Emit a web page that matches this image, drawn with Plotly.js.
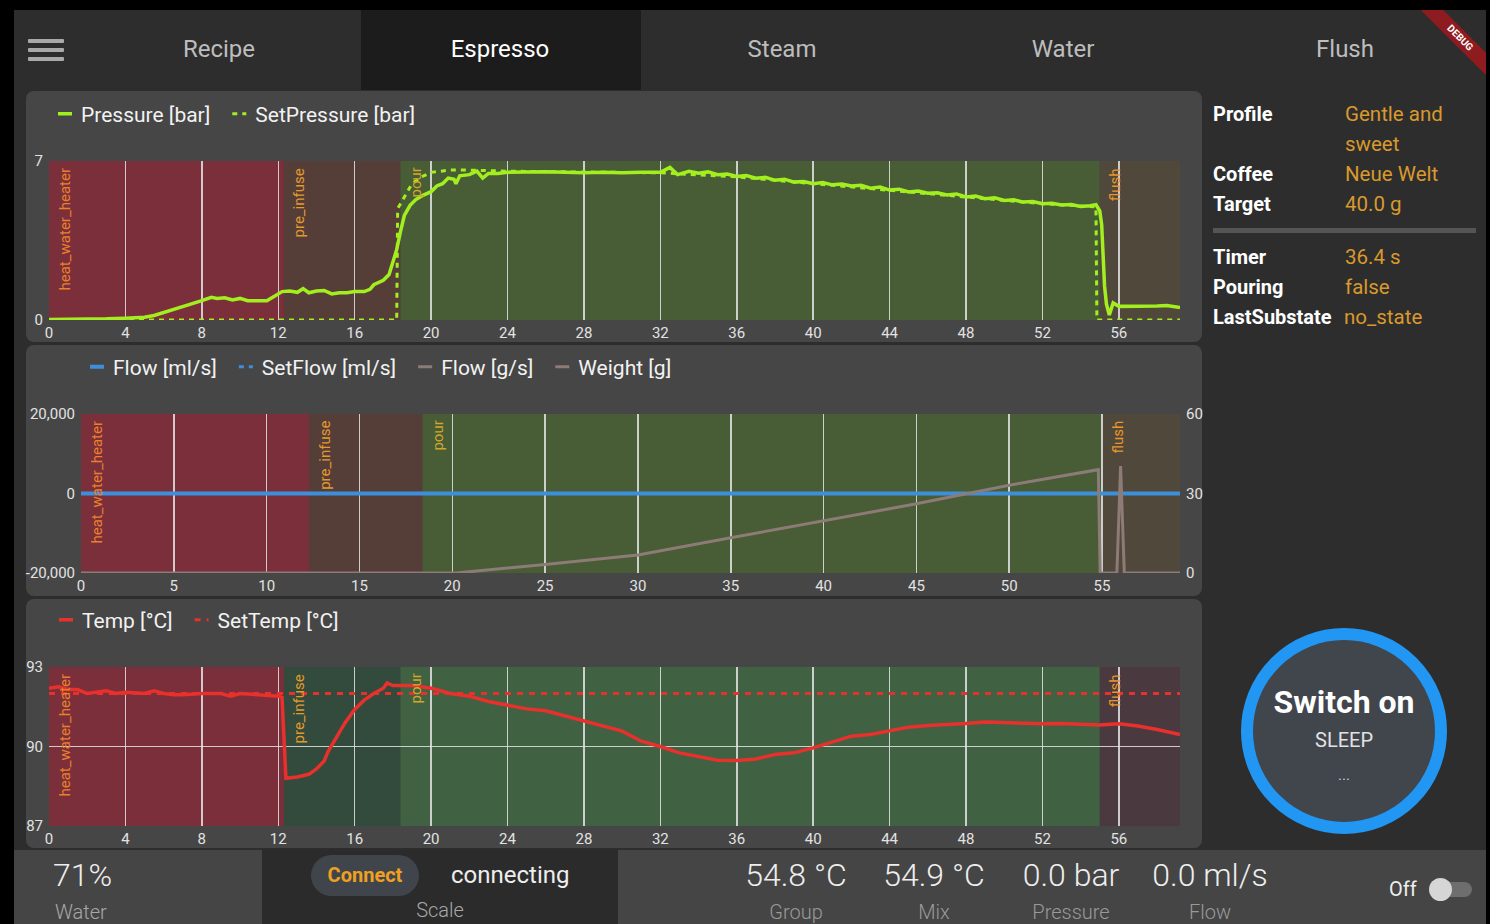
<!DOCTYPE html>
<html><head><meta charset="utf-8">
<script src="https://cdn.plot.ly/plotly-3.0.1.min.js"></script>
<style>
html,body{margin:0;padding:0;background:#000;width:1490px;height:924px;overflow:hidden;font-family:Roboto,"Noto Sans",sans-serif;}
.abs{position:absolute;}
.t{position:absolute;white-space:nowrap;line-height:30px;height:30px;}
.card{position:absolute;left:26px;width:1176px;background:#464646;border-radius:8px;}
.chart{position:absolute;left:14px;width:1200px;}
.lbl{font-weight:700;color:#fff;font-size:20px;}
.val{color:#d9992e;font-size:20.5px;}
.big{font-size:32px;font-weight:300;color:#eee;line-height:40px;height:40px;transform:translateX(-50%);}
.sub{font-size:20px;font-weight:300;color:#9a9a9a;transform:translateX(-50%);}
</style></head>
<body>
<!-- main background -->
<div class="abs" style="left:14px;top:10px;width:1472px;height:914px;background:#2d2d2d;"></div>
<!-- nav bar -->
<div class="abs" style="left:14px;top:10px;width:1472px;height:80px;background:#2d2d2d;overflow:hidden;">
  <div class="abs" style="left:347px;top:0;width:280px;height:80px;background:#1c1c1c;"></div>
  <div class="abs" style="left:14px;top:29px;width:36px;height:4px;background:#a9a9a9;border-radius:1px;"></div>
  <div class="abs" style="left:14px;top:38px;width:36px;height:4px;background:#a9a9a9;border-radius:1px;"></div>
  <div class="abs" style="left:14px;top:47px;width:36px;height:4px;background:#a9a9a9;border-radius:1px;"></div>
  <div class="t" style="left:205px;top:24px;font-size:24px;color:#bdbdbd;transform:translateX(-50%);">Recipe</div>
  <div class="t" style="left:486px;top:24px;font-size:24px;color:#fff;transform:translateX(-50%);">Espresso</div>
  <div class="t" style="left:768px;top:24px;font-size:24px;color:#bdbdbd;transform:translateX(-50%);">Steam</div>
  <div class="t" style="left:1049px;top:24px;font-size:24px;color:#bdbdbd;transform:translateX(-50%);">Water</div>
  <div class="t" style="left:1331px;top:24px;font-size:24px;color:#bdbdbd;transform:translateX(-50%);">Flush</div>
  <div class="abs" style="left:1386px;top:20px;width:120px;height:16px;background:#8e1b1f;transform:rotate(45deg);color:#fff;font-size:10px;font-weight:700;text-align:center;line-height:16px;">DEBUG</div>
</div>

<!-- cards -->
<div class="card" style="top:91px;height:251px;"></div>
<div class="card" style="top:345px;height:251px;"></div>
<div class="card" style="top:599px;height:249px;"></div>

<div id="c1" class="chart" style="top:92px;height:253px;"></div>
<div id="c2" class="chart" style="top:345px;height:253px;"></div>
<div id="c3" class="chart" style="top:598px;height:252px;"></div>

<!-- right panel -->
<div class="t lbl" style="left:1213px;top:99px;">Profile</div>
<div class="t val" style="left:1345px;top:99px;">Gentle and</div>
<div class="t val" style="left:1345px;top:129px;">sweet</div>
<div class="t lbl" style="left:1213px;top:159px;">Coffee</div>
<div class="t val" style="left:1345px;top:159px;">Neue Welt</div>
<div class="t lbl" style="left:1213px;top:189px;">Target</div>
<div class="t val" style="left:1345px;top:189px;">40.0 g</div>
<div class="abs" style="left:1213px;top:228px;width:263px;height:5px;background:#555;"></div>
<div class="t lbl" style="left:1213px;top:242px;">Timer</div>
<div class="t val" style="left:1345px;top:242px;">36.4 s</div>
<div class="t lbl" style="left:1213px;top:272px;">Pouring</div>
<div class="t val" style="left:1345px;top:272px;">false</div>
<div class="t lbl" style="left:1213px;top:302px;">LastSubstate</div>
<div class="t val" style="left:1344px;top:302px;">no_state</div>

<!-- switch button -->
<div class="abs" style="left:1241px;top:628px;width:182px;height:182px;border:12px solid #2196f3;border-radius:50%;background:#41454c;"></div>
<div class="t" style="left:1344px;top:682px;font-size:32px;font-weight:700;color:#fff;line-height:40px;height:40px;transform:translateX(-50%);">Switch on</div>
<div class="t" style="left:1344px;top:725px;font-size:20px;color:#e2e2e2;transform:translateX(-50%);">SLEEP</div>
<div class="t" style="left:1344px;top:760px;font-size:15px;color:#ccc;transform:translateX(-50%);">...</div>

<!-- bottom bar -->
<div class="abs" style="left:14px;top:850px;width:1472px;height:74px;background:#454545;"></div>
<div class="abs" style="left:262px;top:850px;width:356px;height:74px;background:#2b2b2b;"></div>
<div class="t" style="left:53px;top:855px;font-size:32px;font-weight:300;color:#eee;line-height:40px;height:40px;">71%</div>
<div class="t" style="left:55px;top:897px;font-size:20px;font-weight:300;color:#a8a8a8;">Water</div>
<div class="abs" style="left:311px;top:855px;width:108px;height:41px;border-radius:21px;background:#40454c;color:#f0a020;font-size:20px;font-weight:700;text-align:center;line-height:41px;">Connect</div>
<div class="t" style="left:451px;top:860px;font-size:24px;color:#eee;">connecting</div>
<div class="t" style="left:440px;top:895px;font-size:20px;font-weight:300;color:#a8a8a8;transform:translateX(-50%);">Scale</div>
<div class="t big" style="left:796px;top:855px;">54.8 °C</div>
<div class="t big" style="left:934px;top:855px;">54.9 °C</div>
<div class="t big" style="left:1071px;top:855px;">0.0 bar</div>
<div class="t big" style="left:1210px;top:855px;">0.0 ml/s</div>
<div class="t sub" style="left:796px;top:897px;">Group</div>
<div class="t sub" style="left:934px;top:897px;">Mix</div>
<div class="t sub" style="left:1071px;top:897px;">Pressure</div>
<div class="t sub" style="left:1210px;top:897px;">Flow</div>
<div class="t" style="left:1389px;top:874px;font-size:20px;color:#eee;">Off</div>
<div class="abs" style="left:1434px;top:882px;width:38px;height:15px;border-radius:8px;background:#6e6e6e;"></div>
<div class="abs" style="left:1429px;top:878px;width:23px;height:23px;border-radius:50%;background:#d6d6d6;"></div>

<script>
// ---------------- data ----------------
const phaseNames  = ['heat_water_heater', 'pre_infuse', 'pour', 'flush'];
const phaseStart  = [0, 12.3, 18.4, 55.0];
const phaseEnd    = [12.3, 18.4, 55.0, 59.2];

const pressureTime = [0,1,2,3,4,5,5.5,6,6.5,7,7.5,8,8.5,8.8,9.2,9.6,10,10.4,11,11.4,11.8,12.2,12.6,13,13.3,13.6,14,14.4,14.8,15.2,15.6,16,16.5,16.8,17,17.5,17.8,18,18.2,18.4,18.6,18.9,19.2,19.6,20,20.3,20.6,20.9,21.2,21.3,21.5,22,22.4,22.7,23,23.5,24,25,26,27,28,29,30,31,32,32.5,32.9,33.5,34,34.5,35,35.5,36,36.5,37,37.5,38,38.5,39,39.5,40,40.5,41,41.5,42,42.5,43,43.5,44,44.5,45,45.5,46,46.5,47,47.5,48,48.5,49,49.5,50,50.5,51,51.5,52,52.5,53,53.5,54,54.5,54.8,55.0,55.1,55.25,55.35,55.5,55.7,56,57,58,58.5,59.2];
const pressureBar  = [0.02,0.02,0.03,0.05,0.08,0.12,0.2,0.32,0.45,0.58,0.72,0.85,1.0,0.95,0.98,0.88,0.95,0.85,0.85,0.85,1.05,1.25,1.28,1.22,1.38,1.2,1.28,1.3,1.15,1.2,1.2,1.25,1.25,1.35,1.55,1.75,2.0,2.6,3.1,3.9,4.6,5.05,5.3,5.5,5.65,5.9,6.0,6.25,6.2,6.0,6.35,6.4,6.55,6.25,6.45,6.45,6.5,6.52,6.53,6.5,6.48,6.5,6.48,6.5,6.5,6.72,6.4,6.55,6.46,6.52,6.4,6.43,6.32,6.36,6.24,6.28,6.15,6.2,6.07,6.1,6.0,6.05,5.95,5.99,5.9,5.93,5.8,5.85,5.72,5.76,5.64,5.68,5.58,5.6,5.5,5.55,5.42,5.46,5.34,5.38,5.26,5.29,5.19,5.22,5.12,5.14,5.06,5.08,5.0,5.03,5.08,4.8,4.2,1.5,0.7,0.22,0.75,0.6,0.6,0.62,0.64,0.55];

const setPressureTime = [0,18.2,18.25,19,19.5,20,21,22,24,28,32,36,40,44,48,52,54.8,54.85,59.2];
const setPressureBar  = [0,0,4.9,6.0,6.3,6.5,6.6,6.6,6.55,6.5,6.48,6.3,6.0,5.72,5.42,5.12,4.98,0,0];

const flowTime   = [0, 59.2];
const flowMl     = [0, 0];
const setFlowMl  = [0, 0];
const flowGs     = [0, 0];

const weightTime = [0,20.2,25,30,35,40,45,50,54.8,54.9,55.8,56.0,56.2,59.2];
const weightG    = [0,0,3.2,6.8,13.3,19.8,26.1,33.1,39.0,0,0,40.4,0,0];

const tempTime = [0,0.5,1,1.5,2,2.5,3,3.5,4,5,5.5,6,6.5,7,8,9,9.5,10,11,12,12.2,12.3,12.4,13,13.6,14,14.4,14.6,15,15.5,16,16.5,17,17.5,17.7,18,19,20,21,22,23,24,25,26,27,28,29,30,31,32,33,34,35,36,37,38,39,40,41,42,43,44,45,46,47,48,49,50,51,52,53,54,55,56,57,58,59.2];
const tempC    = [92.2,92.25,92.15,92.15,92.0,92.05,92.1,92.0,92.05,92.0,92.1,92.0,91.95,91.95,92.0,92.0,91.9,92.0,91.95,91.9,91.85,90.0,88.8,88.85,88.95,89.15,89.45,89.8,90.3,90.9,91.4,91.75,92.0,92.2,92.4,92.3,92.3,92.2,92.0,91.9,91.7,91.55,91.42,91.35,91.15,90.95,90.77,90.58,90.2,90.0,89.76,89.63,89.48,89.47,89.53,89.7,89.76,89.95,90.16,90.39,90.45,90.58,90.73,90.79,90.82,90.87,90.92,90.9,90.87,90.86,90.87,90.83,90.81,90.86,90.77,90.64,90.45];
const setTempTime = [0, 59.2];
const setTempC    = [92, 92];

const ticks4  = [0,4,8,12,16,20,24,28,32,36,40,44,48,52,56];
const ticks5  = [0,5,10,15,20,25,30,35,40,45,50,55];
const pressureTicks = [0, 7];
const flowTicks = [-20000, 0, 20000];
const flowTickText = ['-20,000', '0', '20,000'];
const weightTicks = [0, 30, 60];
const tempTicks = [87, 90, 93];

// ---------------- styles ----------------
const phaseColorsA = ['#7a2f3a', '#553e38', '#485c36', '#50483a'];
const phaseColorsB = ['#7a2f3a', '#324b3c', '#406242', '#4a3a40'];
const phaseLabelColors = ['#e8802c', '#e39a2d', '#d2a62a', '#e8952a'];
const W = 1200;
const tickFont = {family: 'Roboto', size: 15, color: '#e2e2e2'};
const gridCol = 'rgba(228,228,228,0.85)';

function phaseShapes(colors) {
  return phaseNames.map((n, i) => ({type: 'rect', xref: 'x', yref: 'paper', x0: phaseStart[i], x1: phaseEnd[i],
    y0: 0, y1: 1, fillcolor: colors[i], line: {width: 0}, layer: 'below'}));
}
function phaseLabels() {
  return phaseNames.map((n, i) => ({text: n, xref: 'x', yref: 'paper', x: phaseStart[i], y: 1,
    xanchor: 'left', yanchor: 'top', xshift: 4, yshift: -5, textangle: -90, showarrow: false,
    font: {family: 'Roboto', size: 15, color: phaseLabelColors[i]}}));
}
function xAxis(tv) {
  return {range: [0, 59.2], tickvals: tv, showgrid: true, gridcolor: gridCol, gridwidth: 1.5,
    zeroline: false, showline: false, ticks: '', tickfont: tickFont, fixedrange: true, ticklabelstandoff: 2};
}
function yAxis(range, tv) {
  return {range: range, tickvals: tv, showgrid: true, gridcolor: gridCol, gridwidth: 1.5,
    zeroline: false, ticks: '', tickfont: tickFont, fixedrange: true, ticklabelstandoff: 5};
}
function legend(left, h) {
  return {orientation: 'h', xref: 'container', yref: 'container', x: left / W, y: 1 - 22 / h,
    xanchor: 'left', yanchor: 'middle', bgcolor: 'rgba(0,0,0,0)', itemwidth: 30,
    font: {family: 'Roboto', size: 21, color: '#f2f2f2'}};
}
function baseLayout(h, l, legLeft) {
  return {width: W, height: h, margin: {l: l, r: 34, t: 69, b: h - 69 - 159, pad: 0},
    paper_bgcolor: 'rgba(0,0,0,0)', plot_bgcolor: 'rgba(0,0,0,0)', showlegend: true,
    legend: legend(legLeft, h), font: {family: 'Roboto'}};
}
const config = {staticPlot: true, displayModeBar: false, responsive: false};
function fixLegend(gd) {
  gd.querySelectorAll('.legendlines path').forEach(p => p.setAttribute('d', 'M17,0h14'));
}

// ---------------- chart 1: pressure ----------------
const green = '#a2ee1f';
const l1 = baseLayout(253, 35, 27);
l1.xaxis = xAxis(ticks4);
l1.yaxis = yAxis([0, 7], pressureTicks);
l1.shapes = phaseShapes(phaseColorsA);
l1.annotations = phaseLabels();
Plotly.newPlot('c1', [
  {x: setPressureTime, y: setPressureBar, name: 'SetPressure [bar]', mode: 'lines', legendrank: 2,
   line: {color: green, width: 3, dash: '5px,5px'}},
  {x: pressureTime, y: pressureBar, name: 'Pressure [bar]', mode: 'lines', legendrank: 1,
   line: {color: green, width: 3.5}}
], l1, config).then(fixLegend);

// ---------------- chart 2: flow / weight ----------------
const blue = '#3d8fdc', brown = '#8c7b76';
const l2 = baseLayout(253, 67, 59);
l2.xaxis = xAxis(ticks5);
l2.yaxis = yAxis([-20000, 20000], flowTicks);
l2.yaxis.ticktext = flowTickText;
l2.yaxis2 = {range: [0, 60], tickvals: weightTicks, overlaying: 'y', side: 'right', showgrid: false,
  zeroline: false, ticks: '', tickfont: tickFont, fixedrange: true, ticklabelstandoff: 5};
l2.shapes = phaseShapes(phaseColorsA);
l2.annotations = phaseLabels();
Plotly.newPlot('c2', [
  {x: weightTime, y: weightG, name: 'Weight [g]', yaxis: 'y2', mode: 'lines', legendrank: 4,
   line: {color: brown, width: 3}},
  {x: flowTime, y: flowGs, name: 'Flow [g/s]', mode: 'lines', legendrank: 3,
   line: {color: brown, width: 3}},
  {x: flowTime, y: setFlowMl, name: 'SetFlow [ml/s]', mode: 'lines', legendrank: 2,
   line: {color: blue, width: 3, dash: '5px,5px'}},
  {x: flowTime, y: flowMl, name: 'Flow [ml/s]', mode: 'lines', legendrank: 1,
   line: {color: blue, width: 4}}
], l2, config).then(fixLegend);

// ---------------- chart 3: temperature ----------------
const red = '#e8302c';
const l3 = baseLayout(252, 35, 28);
l3.margin.b = 252 - 69 - 159;
l3.xaxis = xAxis(ticks4);
l3.yaxis = yAxis([87, 93], tempTicks);
l3.shapes = phaseShapes(phaseColorsB);
l3.annotations = phaseLabels();
Plotly.newPlot('c3', [
  {x: setTempTime, y: setTempC, name: 'SetTemp [°C]', mode: 'lines', legendrank: 2,
   line: {color: red, width: 3, dash: '6px,6px'}},
  {x: tempTime, y: tempC, name: 'Temp [°C]', mode: 'lines', legendrank: 1,
   line: {color: red, width: 3.5}}
], l3, config).then(fixLegend);
</script>
</body></html>
